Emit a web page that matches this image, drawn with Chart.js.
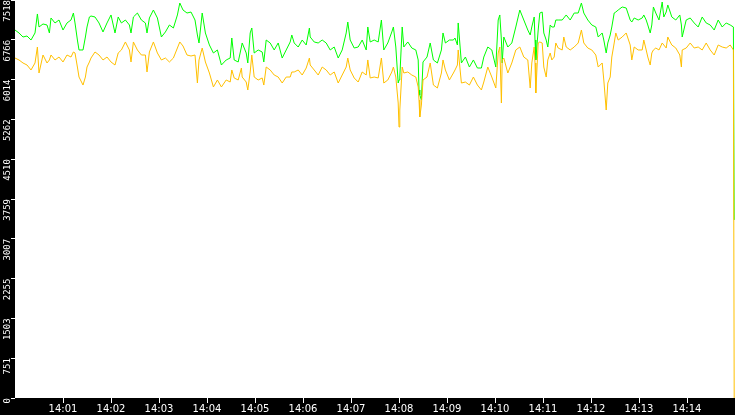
<!DOCTYPE html>
<html>
<head>
<meta charset="utf-8">
<script src="https://cdn.jsdelivr.net/npm/chart.js@4.4.1/dist/chart.umd.min.js"></script>
<style>
  html, body { margin: 0; padding: 0; background: #000; }
  canvas { display: block; }
</style>
</head>
<body>
<canvas id="chart" width="735" height="415"></canvas>
<script>
// seconds after 14:00:00
const secs = [
  0,5,10,15,20,25,28,30,35,40,
  43,45,50,55,60,65,70,73,75,78,
  80,85,88,90,93,95,100,105,110,115,
  120,125,129,133,138,143,145,148,153,158,
  163,165,168,173,178,183,188,193,198,203,
  206,210,215,220,225,228,230,234,238,243,
  248,253,258,264,269,271,274,279,283,284,
  289,291,294,296,299,304,309,311,314,319,
  324,329,334,339,344,346,349,354,359,364,
  368,369,374,379,384,389,394,399,404,409,
  414,416,419,424,429,434,439,441,444,449,
  454,458,461,466,471,473,476,479,480,481,
  484,486,491,496,501,504,505,506,508,510,
  515,519,523,528,533,535,538,543,548,550,
  553,554,558,563,568,573,578,583,586,591,
  596,601,604,606,608,609,611,616,621,626,
  631,636,641,644,646,649,650,651,654,656,
  659,661,664,666,669,671,674,676,679,684,
  686,689,694,699,704,708,711,716,721,726,
  729,734,736,739,741,744,746,749,751,754,
  759,764,769,771,774,779,784,786,789,791,
  794,796,798,801,805,809,811,814,816,819,
  821,826,831,833,834,839,844,849,854,859,
  864,869,874,879,884,889,894,898,899
]

const greenVals = [
  6951,6895,6819,6838,6762,6895,7254,7008,7065,7046,
  6895,7178,7084,7140,6951,7084,7140,7272,7084,6762,
  6574,6574,6819,7008,7197,7216,7197,7084,6914,7084,
  7235,6895,7197,7084,7140,7046,6895,7197,7272,7140,
  7084,6895,7178,7329,7178,6819,6914,7046,6989,7235,
  7461,7329,7272,7291,7140,6857,6706,7272,6895,6668,
  6517,6574,6290,6385,6422,6800,6385,6347,6630,6706,
  6517,6328,6895,6989,6517,6574,6536,6347,6762,6706,
  6574,6706,6422,6574,6725,6857,6706,6630,6762,6668,
  6989,6819,6725,6706,6762,6706,6574,6630,6422,6574,
  6895,7102,6762,6611,6630,6762,6574,7008,6725,6762,
  6725,7140,6574,6706,6914,7008,6630,5950,6007,6063,
  7008,6630,6725,6611,6574,6385,5818,5724,5629,6347,
  6441,6706,6385,6328,6574,6895,6706,6762,6762,6800,
  6668,7084,6328,6441,6252,6385,6233,6233,6441,6630,
  6574,6252,7140,7235,6762,6328,6819,6630,6706,7008,
  7329,7140,6951,6857,7008,7197,6762,6385,6951,7272,
  7291,6895,6762,6630,7046,7008,7008,7140,7140,7140,
  7178,7235,7140,7272,7272,7461,7272,7140,7046,7008,
  6819,6895,6762,6517,6706,6857,7008,7272,7291,7329,
  7386,7367,7140,7102,7178,7140,7178,7235,7140,7046,
  6895,7046,7386,7272,7140,7480,7197,7291,7424,7291,
  7197,7140,7235,7046,6819,7140,7178,7084,7008,7197,
  7084,7046,6951,7140,7008,7084,7046,7008,3364
]

const amberVals = [
  6422,6385,6328,6290,6196,6328,6630,6139,6479,6328,
  6385,6479,6385,6441,6347,6479,6441,6536,6517,6252,
  6063,5912,6063,6252,6347,6422,6536,6479,6385,6441,
  6347,6290,6517,6574,6725,6574,6347,6725,6574,6479,
  6479,6158,6536,6725,6517,6385,6422,6347,6422,6611,
  6725,6649,6479,6460,6479,5950,6385,6611,6347,6139,
  5875,6007,5875,6007,5969,6196,6045,6007,6233,6063,
  5969,5818,6158,6479,6063,6007,6045,5912,6252,6196,
  6101,6063,5950,6063,6063,6158,6158,6196,6101,6233,
  6422,6290,6196,6101,6252,6196,6101,6158,5950,6101,
  6252,6422,6196,6045,5969,6158,6101,6385,6045,6063,
  6045,6422,5950,6007,6158,6252,6063,5572,5119,5440,
  6252,6139,6158,6101,6063,5875,5629,5308,5534,6007,
  6063,6328,5912,5856,6139,6385,6196,6007,6139,6196,
  6290,6574,5950,5969,5912,6063,5912,5818,5969,6252,
  6063,5856,6517,6630,5572,6385,6422,6139,6328,6574,
  6630,6441,6385,5856,6328,6630,6328,5761,6706,6725,
  6706,6252,6063,6385,6517,6385,6441,6706,6611,6574,
  6819,6630,6574,6630,6706,6951,6706,6611,6574,6479,
  6252,6328,6007,5440,5950,6063,6441,6706,6895,6762,
  6819,6895,6668,6385,6630,6574,6574,6762,6574,6441,
  6290,6517,6574,6611,6574,6706,6668,6611,6819,6725,
  6668,6611,6479,6252,6574,6611,6706,6611,6630,6574,
  6706,6574,6479,6668,6630,6611,6668,6574,0
]

const yTicks = [0, 751.8, 1503.6, 2255.4, 3007.2, 3759, 4510.8, 5262.6, 6014.4, 6766.2, 7518]
const xTicks = [60, 120, 180, 240, 300, 360, 420, 480, 540, 600, 660, 720, 780, 840]
const xLabels = ['14:01','14:02','14:03','14:04','14:05','14:06','14:07','14:08','14:09','14:10','14:11','14:12','14:13','14:14']

function points(vals) {
    let pts = []
    for (let i = 0; i < secs.length; i++)
        pts.push({x: secs[i], y: vals[i]})
    return pts
}

const background = {
    id: 'background',
    beforeDraw(chart) {
        let ctx = chart.ctx
        let a = chart.chartArea
        ctx.save()
        ctx.fillStyle = '#000'
        ctx.fillRect(0, 0, chart.width, chart.height)
        ctx.fillStyle = '#fff'
        ctx.fillRect(a.left, a.top, a.right - a.left, a.bottom - a.top)
        ctx.restore()
    }
}

const data = {
    datasets: [{
            label: 'amber',
            data: points(amberVals),
            borderColor: '#ffc000',
            borderWidth: 1,
            pointRadius: 0,
            tension: 0
        }, {
            label: 'green',
            data: points(greenVals),
            borderColor: '#00ff00',
            borderWidth: 1,
            pointRadius: 0,
            tension: 0
        }]
}

const config = {
    type: 'line',
    data: data,
    plugins: [background],
    options: {
        responsive: false,
        animation: false,
        layout: { padding: 0 },
        plugins: {
            legend: { display: false },
            tooltip: { enabled: false }
        },
        scales: {
            x: {
                type: 'linear',
                min: 0,
                max: 900,
                border: { display: false },
                grid: { drawOnChartArea: false, color: '#fff', tickLength: 5 },
                ticks: {
                    color: '#fff',
                    padding: 0,
                    maxRotation: 0,
                    font: { family: 'DejaVu Sans', size: 10 },
                    callback: (v) => xLabels[xTicks.indexOf(v)]
                },
                afterBuildTicks: (scale) => { scale.ticks = xTicks.map(v => ({value: v})) },
                afterFit: (scale) => {
                    scale.height = 17
                    scale.paddingLeft = 0
                    scale.paddingRight = 0
                }
            },
            y: {
                min: 0,
                max: 7518,
                border: { display: false },
                grid: { drawOnChartArea: false, color: '#fff', tickLength: 4 },
                ticks: {
                    color: '#fff',
                    padding: 3,
                    minRotation: 90,
                    maxRotation: 90,
                    font: { family: 'DejaVu Sans Mono', size: 9 },
                    callback: (v) => String(Math.floor(v))
                },
                afterBuildTicks: (scale) => { scale.ticks = yTicks.map(v => ({value: v})) },
                afterFit: (scale) => {
                    scale.width = 15
                    scale.paddingTop = 0
                    scale.paddingBottom = 0
                }
            }
        }
    }
}

let ctx = document.getElementById('chart').getContext('2d')
new Chart(ctx, config)
</script>
</body>
</html>
